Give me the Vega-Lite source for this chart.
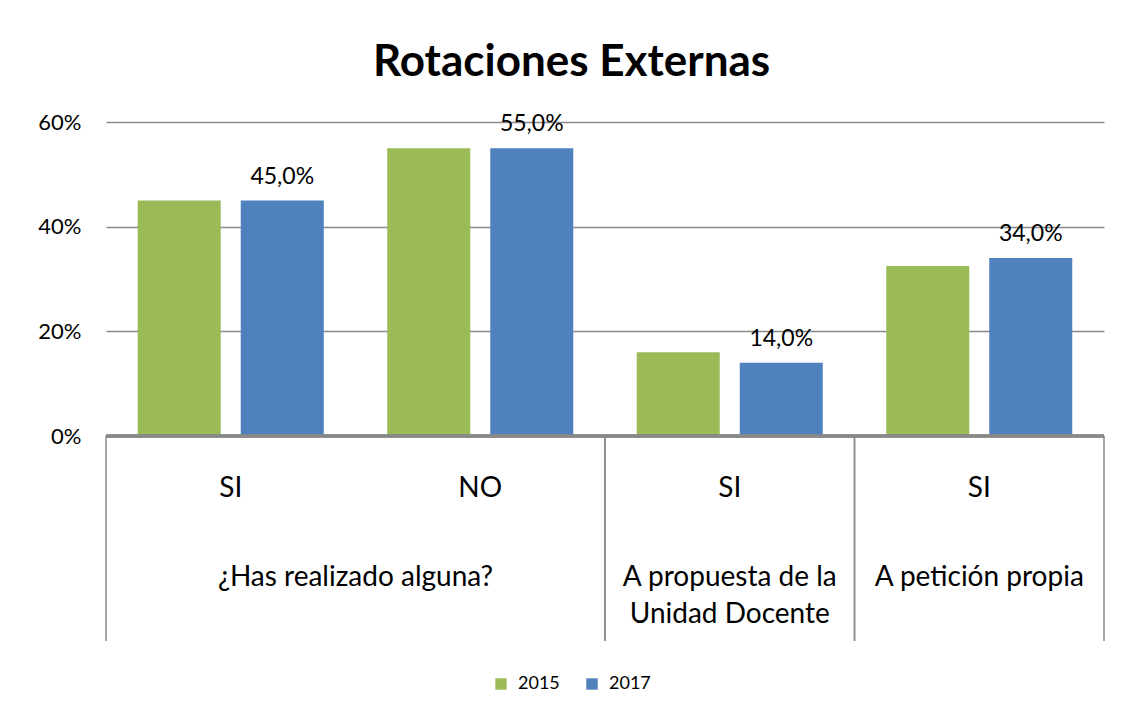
{
  "$schema": "https://vega.github.io/schema/vega-lite/v6.json",
  "background": "white",
  "padding": {"left": 37, "top": 41, "right": 15, "bottom": 10},
  "spacing": 0,
  "bounds": "flush",
  "config": {
    "locale": {"number": {"decimal": ",", "thousands": ".", "grouping": [3], "currency": ["", " €"]}},
    "font": "Lato",
    "view": {"stroke": null},
    "concat": {"spacing": 0}
  },
  "title": {"text": "Rotaciones Externas", "fontSize": 44, "fontWeight": "bold", "font": "Lato", "color": "black", "anchor": "middle", "offset": 26},
  "datasets": {
    "datos": [
      {"cat": "¿Has realizado alguna? · SI", "serie": "2015", "valor": 0.45},
      {"cat": "¿Has realizado alguna? · SI", "serie": "2017", "valor": 0.45},
      {"cat": "¿Has realizado alguna? · NO", "serie": "2015", "valor": 0.55},
      {"cat": "¿Has realizado alguna? · NO", "serie": "2017", "valor": 0.55},
      {"cat": "A propuesta de la Unidad Docente · SI", "serie": "2015", "valor": 0.16},
      {"cat": "A propuesta de la Unidad Docente · SI", "serie": "2017", "valor": 0.14},
      {"cat": "A petición propia · SI", "serie": "2015", "valor": 0.325},
      {"cat": "A petición propia · SI", "serie": "2017", "valor": 0.34}
    ],
    "categorias": [
      {"cat": "¿Has realizado alguna? · SI", "respuesta": "SI", "nivel": "1"},
      {"cat": "¿Has realizado alguna? · NO", "respuesta": "NO", "nivel": "1"},
      {"cat": "A propuesta de la Unidad Docente · SI", "respuesta": "SI", "nivel": "1"},
      {"cat": "A petición propia · SI", "respuesta": "SI", "nivel": "1"}
    ],
    "grupos": [
      {"grupo": "¿Has realizado alguna?", "primera": "¿Has realizado alguna? · SI", "ultima": "¿Has realizado alguna? · NO", "nivel": "2", "ncat": 2},
      {"grupo": "A propuesta de la\nUnidad Docente", "primera": "A propuesta de la Unidad Docente · SI", "ultima": "A propuesta de la Unidad Docente · SI", "nivel": "2", "ncat": 1},
      {"grupo": "A petición propia", "primera": "A petición propia · SI", "ultima": "A petición propia · SI", "nivel": "2", "ncat": 1}
    ]
  },
  "vconcat": [
    {
      "width": 998,
      "height": 314,
      "data": {"name": "datos"},
      "layer": [
        {
          "mark": {"type": "bar"},
          "encoding": {
            "x": {
              "field": "cat", "type": "nominal",
              "scale": {"domain": ["¿Has realizado alguna? · SI", "¿Has realizado alguna? · NO", "A propuesta de la Unidad Docente · SI", "A petición propia · SI"], "paddingInner": 0, "paddingOuter": 0},
              "axis": null
            },
            "xOffset": {"field": "serie", "type": "nominal", "scale": {"domain": ["2015", "2017"], "paddingInner": 0.194, "paddingOuter": 0.308}},
            "y": {
              "field": "valor", "type": "quantitative",
              "scale": {"domain": [0, 0.6]},
              "axis": {"format": ".0%", "values": [0, 0.2, 0.4, 0.6], "title": null, "domain": false, "ticks": false, "labelFontSize": 22, "labelColor": "black", "labelPadding": 25, "gridColor": "#898989", "gridWidth": 1.5}
            },
            "color": {
              "field": "serie", "type": "nominal",
              "scale": {"domain": ["2015", "2017"], "range": ["#9BBB59", "#4F81BD"]},
              "legend": {"title": null, "orient": "none", "legendX": 386, "legendY": 553, "direction": "horizontal", "symbolType": "square", "symbolSize": 130, "symbolStrokeWidth": 0, "labelFontSize": 18, "labelColor": "black", "labelOffset": 8, "columnPadding": 23}
            }
          }
        },
        {
          "transform": [{"filter": "datum.serie === '2017'"}],
          "mark": {"type": "text", "fontSize": 23, "color": "black", "baseline": "alphabetic", "dy": -17},
          "encoding": {
            "x": {"field": "cat", "type": "nominal"},
            "xOffset": {"field": "serie", "type": "nominal"},
            "y": {"field": "valor", "type": "quantitative"},
            "text": {"field": "valor", "type": "quantitative", "format": ".1%"}
          }
        },
        {
          "mark": {"type": "rule", "color": "#898989", "strokeWidth": 2.5},
          "encoding": {"y": {"datum": 0, "type": "quantitative"}}
        }
      ]
    },
    {
      "width": 998,
      "height": 205,
      "encoding": {
        "y": {"field": "nivel", "type": "ordinal", "scale": {"type": "point", "domain": ["1", "2"], "padding": 0.652, "align": 0.526}, "axis": null}
      },
      "layer": [
        {
          "data": {"name": "grupos"},
          "mark": {"type": "rule", "color": "#898989", "strokeWidth": 1.5},
          "encoding": {
            "x": {"field": "primera", "type": "nominal", "bandPosition": 0,
              "scale": {"domain": ["¿Has realizado alguna? · SI", "¿Has realizado alguna? · NO", "A propuesta de la Unidad Docente · SI", "A petición propia · SI"], "paddingInner": 0, "paddingOuter": 0},
              "axis": null},
            "y": null
          }
        },
        {
          "data": {"name": "grupos"},
          "mark": {"type": "rule", "color": "#898989", "strokeWidth": 1.5},
          "encoding": {
            "x": {"field": "ultima", "type": "nominal", "bandPosition": 1, "axis": null},
            "y": null
          }
        },
        {
          "data": {"name": "categorias"},
          "mark": {"type": "text", "fontSize": 28, "color": "black", "baseline": "alphabetic"},
          "encoding": {
            "x": {"field": "cat", "type": "nominal", "bandPosition": 0.5, "axis": null},
            "text": {"field": "respuesta"}
          }
        },
        {
          "data": {"name": "grupos"},
          "transform": [{"filter": "datum.ncat === 2"}],
          "mark": {"type": "text", "fontSize": 28, "color": "black", "baseline": "alphabetic", "lineBreak": "\n", "lineHeight": 37},
          "encoding": {
            "x": {"field": "primera", "type": "nominal", "bandPosition": 1, "axis": null},
            "text": {"field": "grupo"}
          }
        },
        {
          "data": {"name": "grupos"},
          "transform": [{"filter": "datum.ncat === 1"}],
          "mark": {"type": "text", "fontSize": 28, "color": "black", "baseline": "alphabetic", "lineBreak": "\n", "lineHeight": 37},
          "encoding": {
            "x": {"field": "primera", "type": "nominal", "bandPosition": 0.5, "axis": null},
            "text": {"field": "grupo"}
          }
        }
      ]
    }
  ]
}
